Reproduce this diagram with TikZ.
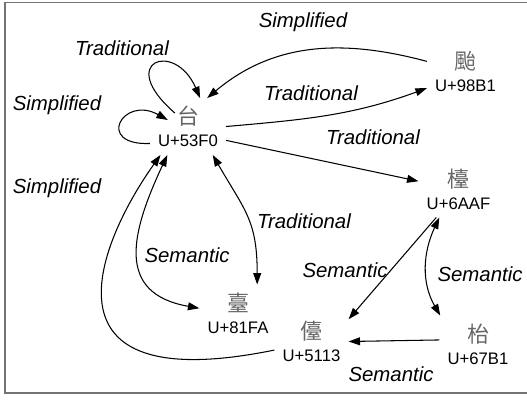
\documentclass[tikz,border=0pt]{standalone}
\usepackage{fontspec}
\setmainfont{Liberation Sans}
\newfontfamily\cjk{Noto Sans CJK TC}
\usetikzlibrary{arrows.meta}
\colorlet{hanzigray}{black!60}
\colorlet{framegray}{black!55}

\tikzset{
  hanzi/.style={align=center, inner xsep=4.5pt, inner ysep=0pt, minimum height=32pt,
    font=\fontsize{9.5pt}{12.5pt}\selectfont},
  rel/.style={line width=0.6pt, -{Triangle[length=6.5pt,width=4.5pt]}},
  relboth/.style={rel, {Triangle[length=6.5pt,width=4.5pt]}-{Triangle[length=6.5pt,width=4.5pt]}},
  kind/.style={font=\fontsize{11.6pt}{14pt}\selectfont\itshape}
}
\newcommand{\zi}[1]{{\cjk\fontsize{12.5pt}{12.5pt}\selectfont\color{hanzigray}#1}}

\begin{document}
\begin{tikzpicture}[x=0.02cm, y=0.02cm]
\useasboundingbox (0,0) rectangle (527,-399);
\draw[framegray, line width=1pt] (530,-2.5) -- (5,-2.5) -- (5,-393) -- (530,-393);

% characters
\node[hanzi] (u53F0) at (188,-126.5) {\zi{台}\\U+53F0};
\node[hanzi] (u98B1) at (465.5,-71) {\zi{颱}\\U+98B1};
\node[hanzi] (u6AAF) at (458.5,-189) {\zi{檯}\\U+6AAF};
\node[hanzi] (u81FA) at (238,-313) {\zi{臺}\\U+81FA};
\node[hanzi] (u5113) at (311.5,-341.5) {\zi{儓}\\U+5113};
\node[hanzi] (u67B1) at (478,-344) {\zi{枱}\\U+67B1};

% variant links
\draw[rel] (u53F0.204) .. controls +(-55,-2) and +(-45,25) .. ([shift={(18,6.5)}]u53F0.west);
\draw[rel] ([shift={(25,13.5)}]u53F0.west) .. controls +(-60,52) and +(-25,58) .. (u53F0.67);
\draw[rel] (u98B1.166) to[out=165, in=40] (u53F0.56);
\draw[rel] (u53F0.east) to[out=5, in=200] (u98B1.204);
\draw[rel] (u53F0.340) -- (u6AAF.169);
\draw[relboth] (u53F0.311) to[out=-60, in=90, looseness=1.2] (u81FA.56);
\draw[relboth] (u53F0.234) to[out=245, in=170, looseness=1.4] (u81FA.173);
\draw[rel] (u5113.193) .. controls +(-245,-50) and +(-60.5,-85) .. (u53F0.226);
\draw[rel] (u6AAF.232) -- (u5113.31);
\draw[relboth] (u6AAF.236) to[out=245, in=120] (u67B1.143);
\draw[rel] (u67B1.174) -- (u5113.east);

% labels
\node[kind] (simpLoop) at (57,-105) {Simplified};
\node[kind] (tradLoop) at (122,-48) {Traditional};
\node[kind] (simpTyphoon) at (303,-22) {Simplified};
\node[kind] (tradTyphoon) at (311,-93) {Traditional};
\node[kind] (tradTable) at (373,-137) {Traditional};
\node[kind] (tradTerrace) at (304,-221) {Traditional};
\node[kind] (semTerrace) at (187,-255) {Semantic};
\node[kind] (simpServant) at (57,-188) {Simplified};
\node[kind] (semTableServant) at (345,-270) {Semantic};
\node[kind] (semTables) at (480,-274) {Semantic};
\node[kind] (semServant) at (391,-374) {Semantic};
\end{tikzpicture}
\end{document}
